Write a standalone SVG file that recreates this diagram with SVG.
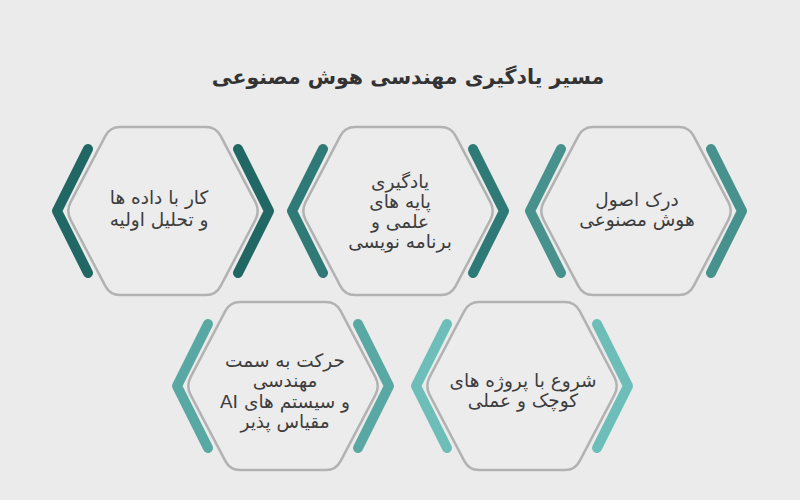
<svg xmlns="http://www.w3.org/2000/svg" xmlns:xlink="http://www.w3.org/1999/xlink" width="800" height="500" viewBox="0 0 800 500">
<style>
.hex{fill:#ececec;stroke:#b2b2b2;stroke-width:2.5}
.chev{fill:none;stroke-width:10;stroke-linecap:round;stroke-linejoin:round}
.lbl{font-family:"DejaVu Sans","Noto Sans",sans-serif;font-size:18.5px;fill:#3d3d3d;text-anchor:middle}
.title{font-family:"DejaVu Sans","Noto Sans",sans-serif;font-size:20.5px;font-weight:bold;fill:#333;text-anchor:middle}
</style>
<defs>
<path id="hexShape" d="M-92.4,-8.9 L-57.6,-75.1 Q-53,-84 -43,-84 L43,-84 Q53,-84 57.6,-75.1 L92.4,-8.9 Q97,0 92.4,8.9 L57.6,75.1 Q53,84 43,84 L-43,84 Q-53,84 -57.6,75.1 L-92.4,8.9 Q-97,0 -92.4,-8.9 Z"/>
<path id="chevL" d="M-75,-62 L-106,0 L-75,62"/>
<path id="chevR" d="M75,-62 L106,0 L75,62"/>
</defs>
<rect width="800" height="500" fill="#ebebeb"/>
<text class="title" x="408" y="84" direction="rtl">مسیر یادگیری مهندسی هوش مصنوعی</text>

<g id="node1" transform="translate(163,211)">
<use xlink:href="#hexShape" class="hex"/>
<use xlink:href="#chevL" class="chev" stroke="#216864"/>
<use xlink:href="#chevR" class="chev" stroke="#216864"/>
<text class="lbl" direction="rtl"><tspan x="-4" y="-7">کار با داده ها</tspan><tspan x="-4" y="15">و تحلیل اولیه</tspan></text>
</g>

<g id="node2" transform="translate(398,211)">
<use xlink:href="#hexShape" class="hex"/>
<use xlink:href="#chevL" class="chev" stroke="#2f7a76"/>
<use xlink:href="#chevR" class="chev" stroke="#2f7a76"/>
<text class="lbl" direction="rtl"><tspan x="2" y="-23">یادگیری</tspan><tspan x="2" y="-3">پایه های</tspan><tspan x="2" y="17">علمی و</tspan><tspan x="2" y="37">برنامه نویسی</tspan></text>
</g>

<g id="node3" transform="translate(636,211)">
<use xlink:href="#hexShape" class="hex"/>
<use xlink:href="#chevL" class="chev" stroke="#47928d"/>
<use xlink:href="#chevR" class="chev" stroke="#47928d"/>
<text class="lbl" direction="rtl"><tspan x="1" y="-5">درک اصول</tspan><tspan x="1" y="15">هوش مصنوعی</tspan></text>
</g>

<g id="node4" transform="translate(283,386)">
<use xlink:href="#hexShape" class="hex"/>
<use xlink:href="#chevL" class="chev" stroke="#5aa8a3"/>
<use xlink:href="#chevR" class="chev" stroke="#5aa8a3"/>
<text class="lbl" direction="rtl"><tspan x="2" y="-19">حرکت به سمت</tspan><tspan x="2" y="1">مهندسی</tspan><tspan x="2" y="22">و سیستم های AI</tspan><tspan x="2" y="42">مقیاس پذیر</tspan></text>
</g>

<g id="node5" transform="translate(522,386)">
<use xlink:href="#hexShape" class="hex"/>
<use xlink:href="#chevL" class="chev" stroke="#6dbeb9"/>
<use xlink:href="#chevR" class="chev" stroke="#6dbeb9"/>
<text class="lbl" direction="rtl"><tspan x="1" y="1">شروع با پروژه های</tspan><tspan x="1" y="21">کوچک و عملی</tspan></text>
</g>

<g id="connectors"></g>
</svg>
